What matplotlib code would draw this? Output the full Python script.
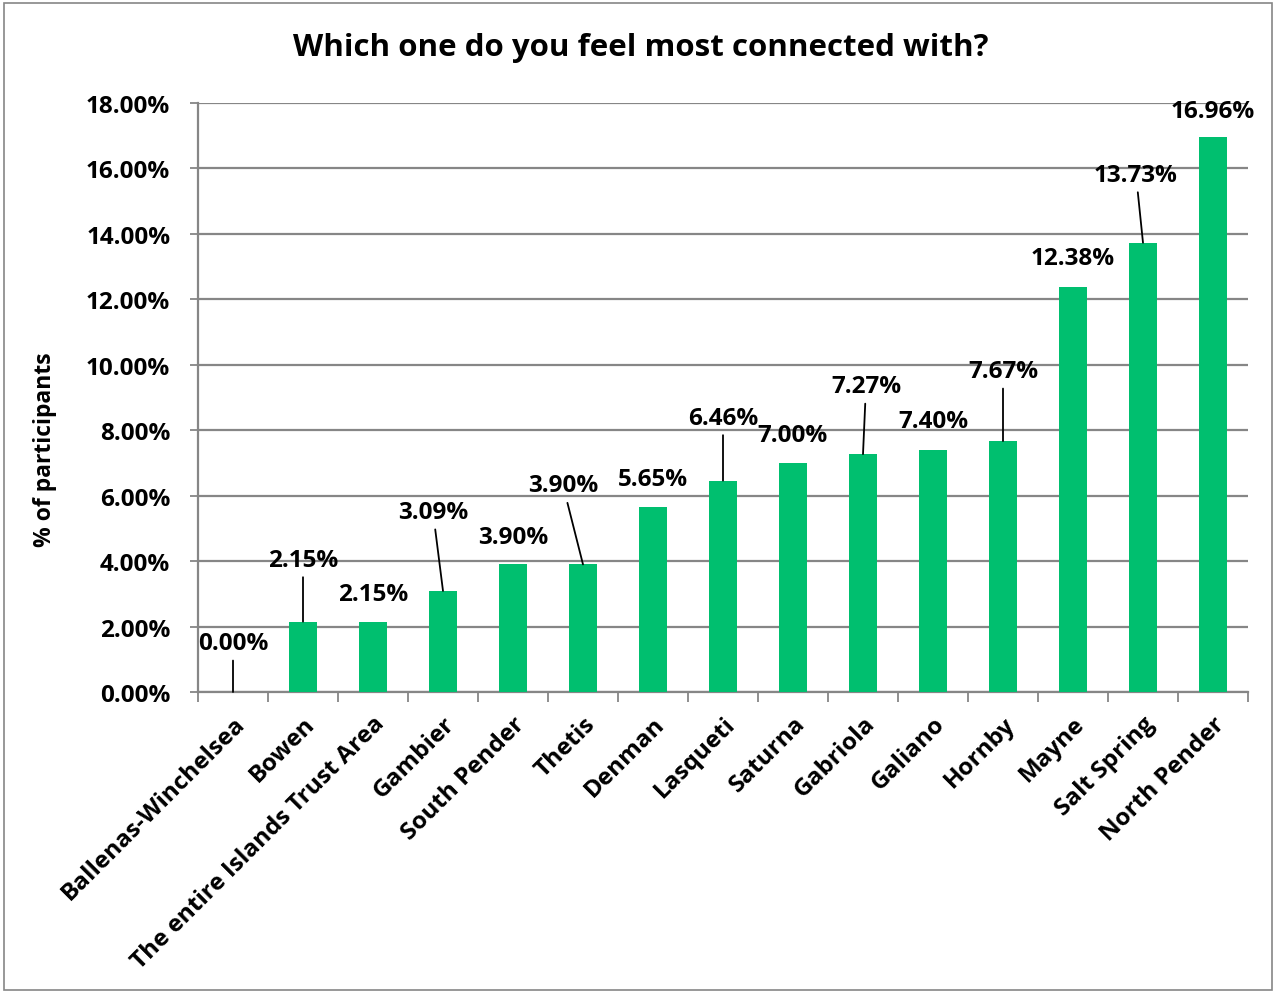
import numpy as np
import matplotlib
matplotlib.use('Agg')
from matplotlib import pyplot as plt
from matplotlib.patches import Rectangle

islands = ['Ballenas-Winchelsea', 'Bowen', 'The entire Islands Trust Area', 'Gambier',
           'South Pender', 'Thetis', 'Denman', 'Lasqueti', 'Saturna', 'Gabriola',
           'Galiano', 'Hornby', 'Mayne', 'Salt Spring', 'North Pender']
pct = [0.00, 2.15, 2.15, 3.09, 3.90, 3.90, 5.65, 6.46, 7.00, 7.27, 7.40, 7.67, 12.38, 13.73, 16.96]

# label offsets from bar top (pixels) and whether a leader line is drawn
lbl_dx = [0, 0, 0, -10, 0, -20, 0, 0, 0, 3, 0, 0, 0, -7, 0]
lbl_dy = [49, 62, 28, 79, 27, 79, 28, 63, 28, 68, 29, 70, 29, 68, 26]
leader = [1, 1, 0, 1, 0, 1, 0, 1, 0, 1, 0, 1, 0, 1, 0]

plt.rcParams['font.family'] = ['Open Sans', 'DejaVu Sans']
plt.rcParams['font.weight'] = 'bold'

green = '#00BF6F'
grid_c = '#868686'
fs = 17.5

fig = plt.figure(figsize=(12.76, 9.95), dpi=100)
fig.patches.append(Rectangle((0.003, 0.004), 0.994, 0.992, transform=fig.transFigure,
                             fill=False, edgecolor=grid_c, linewidth=1.2))
ax = fig.add_axes([198/1276, 1 - 693/995, 1050/1276, 589/995])

x = np.arange(len(islands))
ax.bar(x, pct, width=0.4, color=green, zorder=3)

ax.set_xlim(-0.5, len(islands) - 0.5)
ax.set_ylim(0, 18)
ax.set_yticks(np.arange(0, 18.01, 2))
ax.set_yticklabels(['{:.2f}%'.format(v) for v in np.arange(0, 18.01, 2)], fontsize=fs, fontweight='bold')
ax.yaxis.grid(True, color=grid_c, linewidth=1.6, zorder=0)
ax.tick_params(axis='y', length=6, width=1.3, color=grid_c, pad=14)

ax.set_xticks(x)
ax.set_xticklabels(islands, rotation=45, ha='right', rotation_mode='anchor',
                   fontsize=fs, fontweight='bold')
ax.tick_params(axis='x', which='major', length=0, pad=14)
ax.set_xticks(np.arange(-0.5, len(islands), 1), minor=True)
ax.tick_params(axis='x', which='minor', length=7, width=1.3, color=grid_c)

for s in ['top', 'right']:
    ax.spines[s].set_visible(False)
for s in ['left', 'bottom']:
    ax.spines[s].set_color(grid_c)
    ax.spines[s].set_linewidth(1.6)

for i, v in enumerate(pct):
    props = dict(arrowstyle='-', color='black', lw=1.3, shrinkA=2, shrinkB=0) if leader[i] else None
    ax.annotate('{:.2f}%'.format(v), xy=(i, v), xytext=(lbl_dx[i], lbl_dy[i]),
                textcoords='offset pixels', ha='center', va='center',
                fontsize=fs, fontweight='bold', arrowprops=props, zorder=4)

ax.set_ylabel('% of participants', fontsize=16.5, fontweight='bold')
ax.yaxis.set_label_coords((57 - 198) / 1050, (693 - 450) / 589)
fig.text(641/1276, 1 - 48/995, 'Which one do you feel most connected with?',
         ha='center', va='center', fontsize=22.5, fontweight='bold')

fig.savefig('out.png', dpi=100)
